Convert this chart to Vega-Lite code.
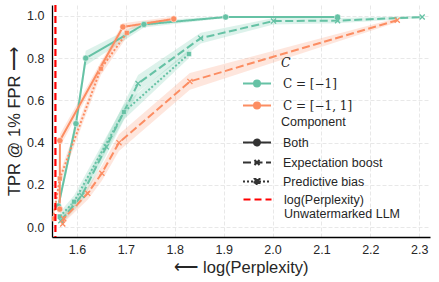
{
  "$schema": "https://vega.github.io/schema/vega-lite/v6.json",
  "width": 378,
  "height": 232,
  "autosize": {"type": "none"},
  "padding": {"left": 52, "top": 5, "right": 9, "bottom": 45},
  "config": {
    "view": {"stroke": null},
    "font": "Liberation Sans",
    "axis": {
      "labelFont": "Liberation Sans", "labelFontSize": 12.5, "labelColor": "#262626",
      "titleFont": "Liberation Sans", "titleFontSize": 16.5, "titleFontWeight": "normal", "titleColor": "#262626",
      "gridColor": "#e2e2e2", "gridDash": [4, 2], "gridWidth": 0.8,
      "domainColor": "#000000", "domainWidth": 1.3, "ticks": false, "labelPadding": 6
    },
    "legend": {
      "labelFont": "Liberation Sans", "labelFontSize": 12.5, "labelColor": "#262626",
      "titleFont": "Liberation Sans", "titleFontSize": 12.5, "titleFontWeight": "normal", "titleColor": "#262626",
      "padding": 0
    }
  },
  "data": {
    "values": [
      {"c": "C = [−1]", "comp": "Both", "x": 1.562, "y": 0.10, "lo": 0.08, "hi": 0.12},
      {"c": "C = [−1]", "comp": "Both", "x": 1.598, "y": 0.49, "lo": 0.46, "hi": 0.52},
      {"c": "C = [−1]", "comp": "Both", "x": 1.618, "y": 0.80, "lo": 0.765, "hi": 0.835},
      {"c": "C = [−1]", "comp": "Both", "x": 1.737, "y": 0.96, "lo": 0.945, "hi": 0.975},
      {"c": "C = [−1]", "comp": "Both", "x": 1.904, "y": 0.995, "lo": 0.99, "hi": 1.0},
      {"c": "C = [−1]", "comp": "Both", "x": 2.133, "y": 0.995, "lo": 0.99, "hi": 1.0},
      {"c": "C = [−1]", "comp": "Expectation boost", "x": 1.567, "y": 0.03, "lo": 0.01, "hi": 0.05},
      {"c": "C = [−1]", "comp": "Expectation boost", "x": 1.61, "y": 0.15, "lo": 0.12, "hi": 0.18},
      {"c": "C = [−1]", "comp": "Expectation boost", "x": 1.66, "y": 0.38, "lo": 0.34, "hi": 0.42},
      {"c": "C = [−1]", "comp": "Expectation boost", "x": 1.725, "y": 0.68, "lo": 0.64, "hi": 0.72},
      {"c": "C = [−1]", "comp": "Expectation boost", "x": 1.853, "y": 0.895, "lo": 0.87, "hi": 0.92},
      {"c": "C = [−1]", "comp": "Expectation boost", "x": 2.002, "y": 0.976, "lo": 0.96, "hi": 0.99},
      {"c": "C = [−1]", "comp": "Expectation boost", "x": 2.133, "y": 0.978, "lo": 0.965, "hi": 0.99},
      {"c": "C = [−1]", "comp": "Expectation boost", "x": 2.306, "y": 0.995, "lo": 0.99, "hi": 1.0},
      {"c": "C = [−1]", "comp": "Predictive bias", "x": 1.565, "y": 0.05, "lo": 0.03, "hi": 0.07},
      {"c": "C = [−1]", "comp": "Predictive bias", "x": 1.594, "y": 0.12, "lo": 0.09, "hi": 0.15},
      {"c": "C = [−1]", "comp": "Predictive bias", "x": 1.696, "y": 0.545, "lo": 0.51, "hi": 0.58},
      {"c": "C = [−1]", "comp": "Predictive bias", "x": 1.829, "y": 0.82, "lo": 0.80, "hi": 0.84},
      {"c": "C = [−1, 1]", "comp": "Both", "x": 1.5648, "y": 0.085, "lo": 0.065, "hi": 0.105},
      {"c": "C = [−1, 1]", "comp": "Both", "x": 1.5652, "y": 0.41, "lo": 0.38, "hi": 0.44},
      {"c": "C = [−1, 1]", "comp": "Both", "x": 1.694, "y": 0.948, "lo": 0.93, "hi": 0.965},
      {"c": "C = [−1, 1]", "comp": "Both", "x": 1.798, "y": 0.986, "lo": 0.975, "hi": 0.997},
      {"c": "C = [−1, 1]", "comp": "Expectation boost", "x": 1.571, "y": 0.015, "lo": 0.0, "hi": 0.03},
      {"c": "C = [−1, 1]", "comp": "Expectation boost", "x": 1.573, "y": 0.04, "lo": 0.02, "hi": 0.06},
      {"c": "C = [−1, 1]", "comp": "Expectation boost", "x": 1.622, "y": 0.16, "lo": 0.13, "hi": 0.19},
      {"c": "C = [−1, 1]", "comp": "Expectation boost", "x": 1.651, "y": 0.255, "lo": 0.22, "hi": 0.29},
      {"c": "C = [−1, 1]", "comp": "Expectation boost", "x": 1.686, "y": 0.40, "lo": 0.36, "hi": 0.44},
      {"c": "C = [−1, 1]", "comp": "Expectation boost", "x": 1.831, "y": 0.69, "lo": 0.65, "hi": 0.73},
      {"c": "C = [−1, 1]", "comp": "Expectation boost", "x": 2.255, "y": 0.98, "lo": 0.97, "hi": 0.99},
      {"c": "C = [−1, 1]", "comp": "Predictive bias", "x": 1.551, "y": 0.04, "lo": 0.02, "hi": 0.06},
      {"c": "C = [−1, 1]", "comp": "Predictive bias", "x": 1.565, "y": 0.23, "lo": 0.20, "hi": 0.26},
      {"c": "C = [−1, 1]", "comp": "Predictive bias", "x": 1.649, "y": 0.75, "lo": 0.72, "hi": 0.78},
      {"c": "C = [−1, 1]", "comp": "Predictive bias", "x": 1.702, "y": 0.92, "lo": 0.90, "hi": 0.94}
    ]
  },
  "layer": [
    {
      "mark": {"type": "area", "opacity": 0.22, "clip": true},
      "encoding": {
        "x": {"field": "x", "type": "quantitative", "title": "⟵ log(Perplexity)",
          "scale": {"domain": [1.549, 2.322], "nice": false, "zero": false},
          "axis": {"values": [1.6, 1.7, 1.8, 1.9, 2.0, 2.1, 2.2, 2.3], "format": ".1f", "titlePadding": 4}},
        "y": {"field": "lo", "type": "quantitative", "title": "TPR @ 1% FPR ⟶",
          "scale": {"domain": [-0.047, 1.052], "nice": false, "zero": false},
          "axis": {"values": [0, 0.2, 0.4, 0.6, 0.8, 1.0], "format": ".1f", "labelPadding": 8, "titlePadding": 4}},
        "y2": {"field": "hi"},
        "color": {"field": "c", "type": "nominal", "scale": {"domain": ["C = [−1]", "C = [−1, 1]"], "range": ["#66c2a5", "#fc8d62"]}},
        "detail": {"field": "comp"}
      }
    },
    {
      "mark": {"type": "line", "strokeWidth": 2, "clip": true},
      "encoding": {
        "x": {"field": "x", "type": "quantitative", "title": "⟵ log(Perplexity)"},
        "y": {"field": "y", "type": "quantitative", "title": "TPR @ 1% FPR ⟶"},
        "color": {"field": "c", "type": "nominal",
          "legend": {
            "title": "C", "orient": "none", "legendX": 204, "legendY": 52,
            "symbolType": "M-3,0H1M-0.57,0A0.43,0.43,0,1,1,-1.43,0A0.43,0.43,0,1,1,-0.57,0Z",
            "symbolSize": 196, "symbolStrokeWidth": 2, "rowPadding": 6, "titlePadding": 6, "labelOffset": 11,
            "titleFont": "DejaVu Serif", "titleFontStyle": "italic", "labelFont": "DejaVu Serif", "labelFontSize": 12,
            "encode": {
              "title": {"update": {"dx": {"value": 25}}},
              "symbols": {"update": {
                "fill": {"signal": "datum.value === 'C = [−1]' ? '#66c2a5' : '#fc8d62'"},
                "stroke": {"signal": "datum.value === 'C = [−1]' ? '#66c2a5' : '#fc8d62'"},
                "opacity": {"value": 1}
              }}
            }
          }},
        "strokeDash": {"field": "comp", "type": "nominal",
          "scale": {"domain": ["Both", "Expectation boost", "Predictive bias"], "range": [[1, 0], [8, 3.5], [2, 2]]},
          "legend": {
            "title": "Component", "orient": "none", "legendX": 204, "legendY": 111,
            "symbolSize": 196, "symbolStrokeWidth": 2, "rowPadding": 4, "titlePadding": 6, "labelOffset": 11,
            "encode": {
              "title": {"update": {"dx": {"value": 25}}},
              "symbols": {"update": {
                "shape": {"signal": "datum.value === 'Both' ? 'M-3,0H1M-0.57,0A0.43,0.43,0,1,1,-1.43,0A0.43,0.43,0,1,1,-0.57,0Z' : datum.value === 'Expectation boost' ? 'M-3,0H1M-1.36,-0.36L-0.64,0.36M-1.36,0.36L-0.64,-0.36' : 'M-3,0H1M-1.36,-0.36H-0.64V0.36H-1.36Z'"},
                "fill": {"value": "#333333"},
                "stroke": {"value": "#333333"},
                "opacity": {"value": 1}
              }}
            }
          }}
      }
    },
    {
      "transform": [{"filter": "datum.comp === 'Both'"}],
      "mark": {"type": "point", "shape": "circle", "filled": true, "size": 38, "opacity": 1, "stroke": "white", "strokeWidth": 0.5, "clip": true},
      "encoding": {
        "x": {"field": "x", "type": "quantitative", "title": "⟵ log(Perplexity)"},
        "y": {"field": "y", "type": "quantitative", "title": "TPR @ 1% FPR ⟶"},
        "color": {"field": "c", "type": "nominal"}
      }
    },
    {
      "transform": [{"filter": "datum.comp === 'Predictive bias'"}],
      "mark": {"type": "point", "shape": "square", "filled": true, "size": 24, "opacity": 1, "stroke": "white", "strokeWidth": 0.4, "clip": true},
      "encoding": {
        "x": {"field": "x", "type": "quantitative", "title": "⟵ log(Perplexity)"},
        "y": {"field": "y", "type": "quantitative", "title": "TPR @ 1% FPR ⟶"},
        "color": {"field": "c", "type": "nominal"}
      }
    },
    {
      "transform": [{"filter": "datum.comp === 'Expectation boost'"}],
      "mark": {"type": "point", "shape": "M-1,-1L1,1M-1,1L1,-1", "filled": false, "size": 26, "opacity": 1, "strokeWidth": 1.3, "clip": true},
      "encoding": {
        "x": {"field": "x", "type": "quantitative", "title": "⟵ log(Perplexity)"},
        "y": {"field": "y", "type": "quantitative", "title": "TPR @ 1% FPR ⟶"},
        "color": {"field": "c", "type": "nominal"}
      }
    },
    {
      "data": {"values": [{"x": 1.556, "lbl": "log(Perplexity)\nUnwatermarked LLM"}]},
      "mark": {"type": "rule", "color": "#ff0000", "strokeWidth": 2.2, "strokeDash": [7, 4]},
      "encoding": {
        "x": {"field": "x", "type": "quantitative", "title": "⟵ log(Perplexity)"},
        "opacity": {"field": "lbl", "type": "ordinal", "scale": {"range": [1]},
          "legend": {
            "title": null, "orient": "none", "legendX": 204, "legendY": 186,
            "symbolType": "M-3,0H1", "symbolSize": 196, "symbolStrokeColor": "#ff0000", "symbolDash": [7, 4], "symbolStrokeWidth": 2.2,
            "labelOffset": 11, "labelExpr": "split(datum.label, '\\n')",
            "encode": {"symbols": {"update": {"stroke": {"value": "#ff0000"}, "opacity": {"value": 1}, "strokeDash": {"value": [7, 4]}}}}
          }}
      }
    }
  ]
}
